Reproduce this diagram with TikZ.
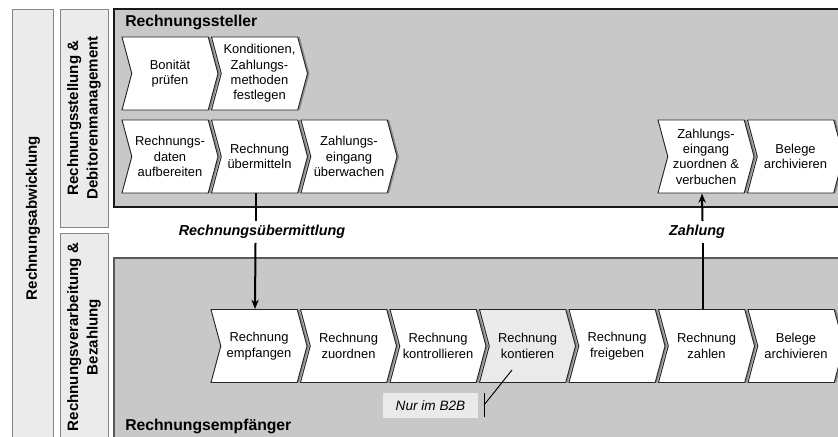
\documentclass[tikz,border=0pt]{standalone}
\usepackage{fontspec}
\setmainfont{Liberation Sans}
\usetikzlibrary{shapes.symbols,shadows,positioning,arrows.meta}
\definecolor{lanegray}{HTML}{C8C8C8}
\definecolor{colgray}{HTML}{EBEBEB}
\definecolor{framegray}{HTML}{858585}
\definecolor{notegray}{HTML}{EAEAEA}
\tikzset{
    chevron/.style={signal,signal from=west,signal to=east,signal pointer angle=150,draw=black!85,fill=white,line width=0.7pt,minimum width=72pt,minimum height=54.75pt,inner sep=0pt,drop shadow={shadow xshift=1.5pt,shadow yshift=0pt,fill=black!45,opacity=1},label={[chevtext]center:#1}},
    chevtext/.style={align=center,draw=none,fill=none,font=\fontsize{9.7}{11.5}\selectfont},
    column/.style={draw=framegray,fill=colgray,line width=0.7pt},
    lane/.style={draw=black!90,fill=lanegray,line width=0.8pt},
    coltext/.style={rotate=90,align=center,font=\bfseries\fontsize{11.3}{14.5}\selectfont},
}

\begin{document}
\begin{tikzpicture}[x=0.75pt,y=-0.75pt,>={Stealth[length=7pt,width=5.5pt]},node distance=67.125pt,lanetext/.style={font=\bfseries\fontsize{11.8}{13}\selectfont,inner sep=0pt},flowtext/.style={font=\bfseries\itshape\fontsize{10.8}{12}\selectfont,fill=white,inner sep=3pt},flow/.style={line width=1.5pt}]
    \useasboundingbox (0,0) rectangle (838,436);
    \clip (0,0) rectangle (838,436);

    % Spalten links
    \draw[column] (12,9) rectangle (53,450);
    \draw[column] (60,9) rectangle (108,227);
    \draw[column] (60,233) rectangle (108,450);
    \node[coltext] (abw) at (33,218) {Rechnungsabwicklung};
    \node[coltext] (stell) at (84,118) {Rechnungsstellung \&\\Debitorenmanagement};
    \node[coltext] (verarb) at (84,337) {Rechnungsverarbeitung \&\\Bezahlung};

    % Bahnen
    \draw[lane] (114,9) rectangle (850,207);
    \draw[lane,draw=black!65] (114,258) rectangle (850,450);
    \node[lanetext,anchor=west] (steller) at (125,22) {Rechnungssteller};
    \node[lanetext,anchor=west] (empfaenger) at (125,426) {Rechnungsempfänger};

    % Rechnungssteller
    \node[chevron={Bonität\\prüfen}] (bon) at (170,73.5) {};
    \node[chevron={Konditionen,\\Zahlungs-\\methoden\\festlegen}] (kond) [right of=bon] {};
    \node[chevron={Rechnungs-\\daten\\aufbereiten}] (daten) at (170,156.5) {};
    \node[chevron={Rechnung\\übermitteln}] (uebm) [right of=daten] {};
    \node[chevron={Zahlungs-\\eingang\\überwachen}] (ueberw) [right of=uebm] {};
    \node[chevron={Zahlungs-\\eingang\\zuordnen \&\\verbuchen}] (zuverb) at (706,156.5) {};
    \node[chevron={Belege\\archivieren}] (archs) [right of=zuverb] {};

    % Rechnungsempfaenger
    \node[chevron={Rechnung\\empfangen}] (empf) at (259,346) {};
    \node[chevron={Rechnung\\zuordnen}] (zuord) [right of=empf] {};
    \node[chevron={Rechnung\\kontrollieren}] (kontr) [right of=zuord] {};
    \node[chevron={Rechnung\\kontieren},fill=notegray] (konti) [right of=kontr] {};
    \node[chevron={Rechnung\\freigeben}] (frei) [right of=konti] {};
    \node[chevron={Rechnung\\zahlen}] (zahlen) [right of=frei] {};
    \node[chevron={Belege\\archivieren}] (arche) [right of=zahlen] {};

    % Fluesse
    \node[flowtext] (uelab) at (262,232) {Rechnungsübermittlung};
    \node[flowtext] (zlab) at (697,232) {Zahlung};
    \draw[flow] ([xshift=-3pt]uebm.south) -- ([xshift=-3pt]uebm.south |- uelab.north);
    \draw[flow,->] ([xshift=-3pt]uebm.south |- uelab.south) -- ([xshift=-3pt]empf.north);
    \draw[flow] ([xshift=-3pt]zahlen.north) -- ([xshift=-3pt]zahlen.north |- zlab.south);
    \draw[flow,->] ([xshift=-3pt]zahlen.north |- zlab.north) -- ([xshift=-3pt]zuverb.south);

    % Hinweis
    \node[fill=notegray,minimum width=71.25pt,minimum height=18.75pt,inner sep=0pt,font=\itshape\fontsize{10.2}{12}\selectfont] (nur) at (430.5,405.5) {Nur im B2B};
    \coordinate (tick) at (484,405);
    \coordinate (pin) at (512,370);
    \draw[line width=0.7pt] ([yshift=9pt]tick) -- ([yshift=-9pt]tick);
    \draw[line width=0.7pt] (tick) -- (pin);
\end{tikzpicture}
\end{document}
